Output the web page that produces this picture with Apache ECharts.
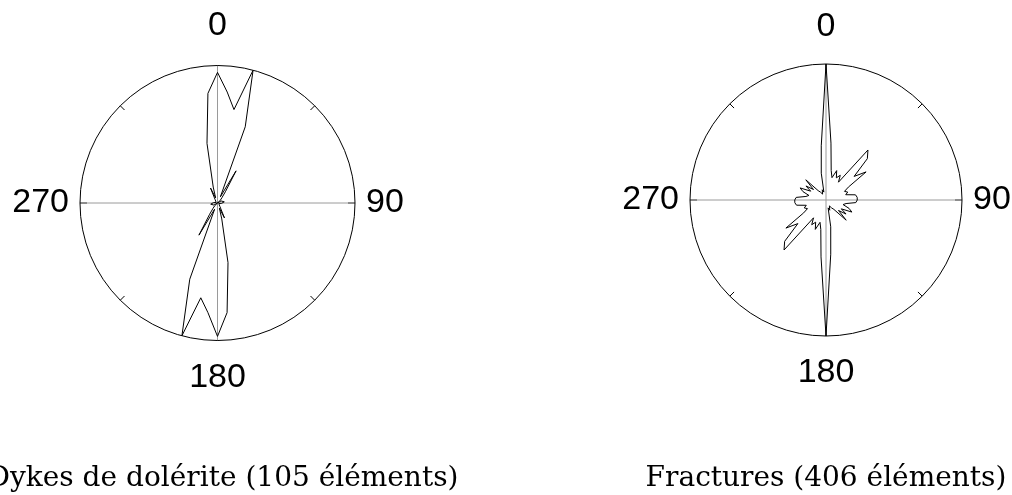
<!DOCTYPE html>
<html>
<head>
<meta charset="utf-8">
<script src="https://cdn.jsdelivr.net/npm/echarts@6/dist/echarts.min.js"></script>
<style>
html,body{margin:0;padding:0;background:#fff;}
#c{width:1012px;height:495px;}
</style>
</head>
<body>
<div id="c"></div>
<script>
// Bin directions (degrees, clockwise from north)
const angles = [0,5,10,15,20,25,30,35,40,45,50,55,60,65,70,75,80,85,90,95,100,105,110,115,120,125,130,135,140,145,150,155,160,165,170,175,
  180,185,190,195,200,205,210,215,220,225,230,235,240,245,250,255,260,265,270,275,280,285,290,295,300,305,310,315,320,325,330,335,340,345,350,355];
// Relative frequency (fraction of the outer circle) - dolerite dykes
const dykes = [0.95,0.81,0.69,1.0,0.59,0.05,0.27,0.10,0.05,0.03,0.02,0.00,0.03,0.02,0.04,0.03,0.05,0.06,0.06,0.03,0.02,0.02,0.01,0.02,0.00,0.02,0.01,0.02,0.00,0.03,0.04,0.12,0.04,0.12,0.44,0.80,
  0.97,0.80,0.70,1.0,0.59,0.05,0.27,0.10,0.05,0.03,0.02,0.00,0.03,0.02,0.04,0.03,0.05,0.06,0.06,0.03,0.02,0.02,0.01,0.02,0.00,0.02,0.01,0.02,0.00,0.03,0.04,0.12,0.04,0.12,0.44,0.80];
// Relative frequency - fractures
const fractures = [1.0,0.42,0.22,0.17,0.23,0.18,0.21,0.16,0.48,0.43,0.27,0.36,0.19,0.15,0.17,0.15,0.22,0.23,0.23,0.22,0.15,0.13,0.18,0.21,0.13,0.18,0.12,0.21,0.09,0.07,0.05,0.06,0.08,0.06,0.20,0.40,
  1.0,0.42,0.22,0.17,0.23,0.18,0.21,0.16,0.48,0.43,0.27,0.36,0.19,0.15,0.17,0.15,0.22,0.23,0.23,0.22,0.15,0.13,0.18,0.21,0.13,0.18,0.12,0.21,0.09,0.07,0.05,0.06,0.08,0.06,0.20,0.40];
const tickLabels = ['0','90','180','270'];
const captions = ['Dykes de dolérite (105 éléments)', 'Fractures (406 éléments)'];

function closed(vals){
  const d = angles.map((a,i)=>[vals[i], a]);
  d.push([vals[0], 360]);
  return d;
}

const labelFont = {fontFamily:'Liberation Sans, Arial, sans-serif', fontSize:34, color:'#000'};
function angleAxis(idx, topPad, botPad){
  return {
    polarIndex: idx, type:'value', min:0, max:360, interval:90, startAngle:90, clockwise:true,
    axisLine:{show:true, lineStyle:{color:'#000', width:1}},
    axisTick:{show:true, inside:true, length:7, lineStyle:{color:'#000', width:1}},
    minorTick:{show:true, splitNumber:2, length:6, lineStyle:{color:'#000', width:1}},
    splitLine:{show:true, lineStyle:{color:'#9a9a9a', width:1}},
    axisLabel:{
      show:true, margin:11,
      formatter: function(v){
        const i = [0,90,180,270].indexOf(v);
        if(i<0) return '';
        if(v===0) return '{t|'+tickLabels[i]+'}';
        if(v===180) return '{b|'+tickLabels[i]+'}';
        return '{n|'+tickLabels[i]+'}';
      },
      rich:{
        t:Object.assign({padding:[0,0,topPad,0]}, labelFont),
        b:Object.assign({padding:[botPad,0,0,0]}, labelFont),
        n:Object.assign({}, labelFont)
      }
    }
  };
}
function radiusAxis(idx){
  return {polarIndex:idx, type:'value', min:0, max:1, axisLine:{show:false}, axisTick:{show:false}, axisLabel:{show:false}, splitLine:{show:false}};
}

const capStyle = {fontFamily:'DejaVu Serif, serif', fontWeight:'normal', fontSize:28, color:'#000'};
const chart = echarts.init(document.getElementById('c'), null, {renderer:'canvas'});
chart.setOption({
  animation:false,
  backgroundColor:'#fff',
  polar:[{center:[217.5,203], radius:137.5},{center:[826,200], radius:136}],
  angleAxis:[angleAxis(0, 12, 9), angleAxis(1, 9, 9)],
  radiusAxis:[radiusAxis(0), radiusAxis(1)],
  title:[
    {text:captions[0], left:223, textAlign:'center', top:465, textStyle:capStyle, padding:0},
    {text:captions[1], left:826, textAlign:'center', top:465, textStyle:capStyle, padding:0}
  ],
  series:[
    {type:'line', coordinateSystem:'polar', polarIndex:0, data:closed(dykes), symbol:'none', lineStyle:{color:'#000', width:1}},
    {type:'line', coordinateSystem:'polar', polarIndex:1, data:closed(fractures), symbol:'none', lineStyle:{color:'#000', width:1}}
  ]
});
</script>
</body>
</html>
